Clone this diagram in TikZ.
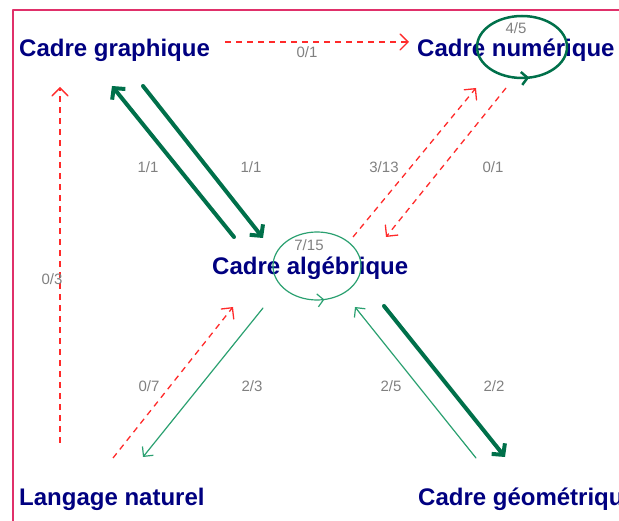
\documentclass[tikz,border=0pt]{standalone}
\usepackage{fontspec}
\setmainfont{Liberation Sans}
\usetikzlibrary{arrows.meta,decorations.markings}
\definecolor{cadreblue}{HTML}{000080}
\definecolor{vertfonce}{HTML}{00704A}
\definecolor{vertclair}{HTML}{2AA070}
\definecolor{rougetir}{HTML}{FF2A2A}
\definecolor{rougecadre}{HTML}{E0306A}
\begin{document}
\begin{tikzpicture}[x=1pt,y=-1pt, line join=round, line cap=round]
			\tikzset{cadre/.style={anchor=base west, inner sep=0pt, text=cadreblue, font=\bfseries\fontsize{24}{28}\selectfont},
				ratio/.style={inner sep=0pt, text=gray, font=\fontsize{15}{18}\selectfont},
				tirets/.style={rougetir, line width=1.3pt, line cap=butt, dash pattern=on 6pt off 5pt, -{Straight Barb[length=8pt,width=16pt,line cap=round]}},
				fin/.style={vertclair, line width=1.2pt, -{Straight Barb[length=7pt,width=14pt]}},
				epais/.style={vertfonce, line width=4pt, -{Straight Barb[length=8pt,width=17pt]}},
				boucle/.style={postaction={decorate}, decoration={markings, mark=at position 0.22 with {\arrowreversed{Straight Barb[length=6pt,width=13pt]}}}}}
			\useasboundingbox (0,0) rectangle (619,521);
			\draw[rougecadre, line width=1.5pt, line cap=butt] (13,521)--(13,10)--(619,10);
			% les cadres
			\node[cadre] (gra) at (19,57) {Cadre graphique};
			\node[cadre] (num) at (417,57) {Cadre numérique};
			\node[cadre] (alg) at (212,275) {Cadre algébrique};
			\node[cadre] (nat) at (19,505) {Langage naturel};
			\node[cadre] (geo) at (418,505) {Cadre géométrique};
			% extremites des fleches
			\coordinate (gra-e) at (225,42); \coordinate (num-w) at (409,42);
			\coordinate (nat-n) at (60,443); \coordinate (gra-s) at (60,87);
			\coordinate (alg-nw1) at (234,237); \coordinate (gra-se1) at (112,86);
			\coordinate (gra-se2) at (143,86); \coordinate (alg-nw2) at (263,238);
			\coordinate (alg-ne1) at (353,237); \coordinate (num-sw1) at (476,88);
			\coordinate (num-sw2) at (506,88); \coordinate (alg-ne2) at (386,237);
			\coordinate (nat-ne1) at (113,458); \coordinate (alg-sw1) at (233,307);
			\coordinate (alg-sw2) at (263,308); \coordinate (nat-ne2) at (143,457);
			\coordinate (geo-nw1) at (476,458); \coordinate (alg-se1) at (355,307);
			\coordinate (alg-se2) at (384,306); \coordinate (geo-nw2) at (505,457);
			\coordinate (num-boucle) at (522,47); \coordinate (alg-boucle) at (317,266);
			% fleches
			\draw[tirets] (gra-e)--(num-w);
			\draw[tirets] (nat-n)--(gra-s);
			\draw[epais] (alg-nw1)--(gra-se1);
			\draw[epais] (gra-se2)--(alg-nw2);
			\draw[tirets] (alg-ne1)--(num-sw1);
			\draw[tirets] (num-sw2)--(alg-ne2);
			\draw[tirets] (nat-ne1)--(alg-sw1);
			\draw[fin] (alg-sw2)--(nat-ne2);
			\draw[fin] (geo-nw1)--(alg-se1);
			\draw[epais] (alg-se2)--(geo-nw2);
			% boucles
			\draw[vertfonce, line width=2.5pt, boucle] (num-boucle) ellipse [x radius=45, y radius=31];
			\draw[vertclair, line width=1.2pt, boucle] (alg-boucle) ellipse [x radius=44, y radius=34];
			% rapports
			\node[ratio] (r-gn) at (307,52) {0/1};
			\node[ratio] (r-ng) at (52,279) {0/3};
			\node[ratio] (r-ag) at (148,167) {1/1};
			\node[ratio] (r-ga) at (251,167) {1/1};
			\node[ratio] (r-an) at (384,167) {3/13};
			\node[ratio] (r-na) at (493,167) {0/1};
			\node[ratio] (r-nn) at (516,28) {4/5};
			\node[ratio] (r-aa) at (309,245) {7/15};
			\node[ratio] (r-la) at (149,386) {0/7};
			\node[ratio] (r-al) at (252,386) {2/3};
			\node[ratio] (r-gea) at (391,386) {2/5};
			\node[ratio] (r-age) at (494,386) {2/2};
	\end{tikzpicture}
\end{document}
